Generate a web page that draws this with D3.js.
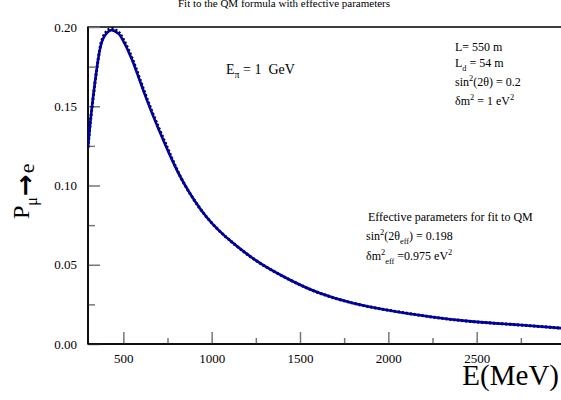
<!DOCTYPE html>
<html><head><meta charset="utf-8">
<script src="https://cdn.jsdelivr.net/npm/d3@7"></script>
<style>
html,body{margin:0;padding:0;background:#fff;}
svg{display:block;}
text{font-family:"Liberation Serif","Times New Roman",serif;fill:#000;}
</style></head>
<body>
<svg id="chart" width="561" height="400"></svg>
<script>
// ---- data ----
const energy   = [300, 321, 358, 387, 430, 470, 491, 547, 623, 698, 764, 840, 972, 1123, 1274, 1444, 1614, 1802, 1991, 2237, 2482, 2746, 3000];
const fitProb  = [0.124, 0.148, 0.180, 0.193, 0.198, 0.196, 0.193, 0.180, 0.157, 0.136, 0.119, 0.102, 0.080, 0.0635, 0.051, 0.0404, 0.032, 0.0257, 0.0215, 0.0172, 0.0141, 0.0120, 0.0098];
const qmProb   = [0.124, 0.148, 0.180, 0.194, 0.199, 0.197, 0.194, 0.181, 0.158, 0.137, 0.120, 0.102, 0.080, 0.0635, 0.051, 0.0404, 0.032, 0.0257, 0.0215, 0.0172, 0.0141, 0.0120, 0.0098];
const xMajorTicks = [500, 1000, 1500, 2000, 2500];
const xMinorTicks = [750, 1250, 1750, 2250, 2750];
const yMajorTicks = [0.00, 0.05, 0.10, 0.15, 0.20];
const yMinorTicks = [0.025, 0.075, 0.125, 0.175];
const titleText = "Fit to the QM formula with effective parameters";

const svg = d3.select("#chart");
const x = d3.scaleLinear().domain([300, 3000]).range([88, 565]);
const y = d3.scaleLinear().domain([0, 0.2]).range([344, 27]);

// frame
svg.append("rect").attr("x", x(300)).attr("y", y(0.2))
  .attr("width", x(3000) - x(300)).attr("height", y(0) - y(0.2))
  .attr("fill", "none").attr("stroke", "#000").attr("stroke-width", 1.5);

// axes
function styleAxis(g) {
  g.select(".domain").remove();
  g.selectAll(".tick line").attr("stroke", "#777").attr("stroke-width", 1.5);
  g.selectAll(".tick text").attr("font-family", "Liberation Serif").attr("font-size", 13).attr("fill", "#000");
}
svg.append("g").attr("transform", `translate(0,${y(0)})`)
  .call(d3.axisBottom(x).tickValues(xMinorTicks).tickSize(-6).tickFormat(""))
  .call(styleAxis);
svg.append("g").attr("transform", `translate(0,${y(0)})`)
  .call(d3.axisBottom(x).tickValues(xMajorTicks).tickSize(-12).tickPadding(10).tickFormat(d3.format("d")))
  .call(styleAxis);
svg.append("g").attr("transform", `translate(${x(300)},0)`)
  .call(d3.axisLeft(y).tickValues(yMinorTicks).tickSize(-7).tickFormat(""))
  .call(styleAxis);
svg.append("g").attr("transform", `translate(${x(300)},0)`)
  .call(d3.axisLeft(y).tickValues(yMajorTicks).tickSize(-12).tickPadding(11).tickFormat(d3.format(".2f")))
  .call(styleAxis);

// axis lines drawn on top
svg.append("line").attr("x1", x(300)).attr("x2", x(3000)).attr("y1", y(0)).attr("y2", y(0)).attr("stroke", "#000").attr("stroke-width", 1.5);
svg.append("line").attr("x1", x(300)).attr("x2", x(300)).attr("y1", y(0)).attr("y2", y(0.2)).attr("stroke", "#000").attr("stroke-width", 1.5);

// curves
svg.append("clipPath").attr("id", "clip").append("rect")
  .attr("x", x(300)).attr("y", y(0.2) - 3).attr("width", x(3000) - x(300)).attr("height", y(0) - y(0.2) + 3);
const line = d3.line().x(d => x(d[0])).y(d => y(d[1])).curve(d3.curveNatural);
svg.append("path").datum(energy.map((e, i) => [e, qmProb[i]]))
  .attr("d", line).attr("fill", "none").attr("stroke", "#000").attr("stroke-width", 3)
  .attr("stroke-dasharray", "2,2").attr("clip-path", "url(#clip)");
svg.append("path").datum(energy.map((e, i) => [e, fitProb[i]]))
  .attr("d", line).attr("fill", "none").attr("stroke", "#0000a0").attr("stroke-width", 2.6)
  .attr("clip-path", "url(#clip)");

// rich text helper: segments [text, mode] mode: "", "sub", "sup"
function rich(xp, yp, size, segs, anchor) {
  const t = svg.append("text").attr("x", xp).attr("y", yp).attr("font-size", size)
    .attr("text-anchor", anchor || "start").attr("xml:space", "preserve");
  let shift = 0;
  segs.forEach(([s, mode]) => {
    let target = mode === "sub" ? size * 0.3 : mode === "sup" ? -size * 0.45 : 0;
    const ts = t.append("tspan").text(s).attr("dy", target - shift);
    if (mode) ts.attr("font-size", size * 0.7);
    shift = target;
  });
  return t;
}

// title
svg.append("text").attr("x", 284).attr("y", 7).attr("text-anchor", "middle")
  .attr("font-size", 11).text(titleText);

// E_pi label
rich(226, 74, 14, [["E", ""], ["π", "sub"], [" = 1\u00a0\u00a0GeV", ""]]);

// top-right parameters
rich(455, 51, 12, [["L= 550 m", ""]]);
rich(455, 67, 12, [["L", ""], ["d", "sub"], [" = 54 m", ""]]);
rich(455, 86, 12, [["sin", ""], ["2", "sup"], ["(2θ) = 0.2", ""]]);
rich(455, 105, 12, [["δm", ""], ["2", "sup"], [" = 1 eV", ""], ["2", "sup"]]);

// effective parameters block
rich(368, 221, 12, [["Effective parameters for fit to QM", ""]]);
rich(366, 240, 12, [["sin", ""], ["2", "sup"], ["(2θ", ""], ["eff", "sub"], [") = 0.198", ""]]);
rich(366, 260, 12, [["δm", ""], ["2", "sup"], ["eff", "sub"], [" =0.975 eV", ""], ["2", "sup"]]);

// x axis title
svg.append("text").attr("x", 559).attr("y", 385).attr("text-anchor", "end")
  .attr("font-size", 29).text("E(MeV)");

// y axis title
const yt = svg.append("text").attr("transform", "translate(29,219) rotate(-90)").attr("font-size", 24);
yt.append("tspan").text("P");
yt.append("tspan").text("μ").attr("font-size", 16).attr("dy", 8);
yt.append("tspan").text("→").attr("font-family", "DejaVu Sans").attr("font-weight", "bold")
  .attr("font-size", 26).attr("dy", -3).attr("dx", 1);
yt.append("tspan").text("e").attr("font-size", 22).attr("dy", 0).attr("dx", 1);
</script>
</body></html>
